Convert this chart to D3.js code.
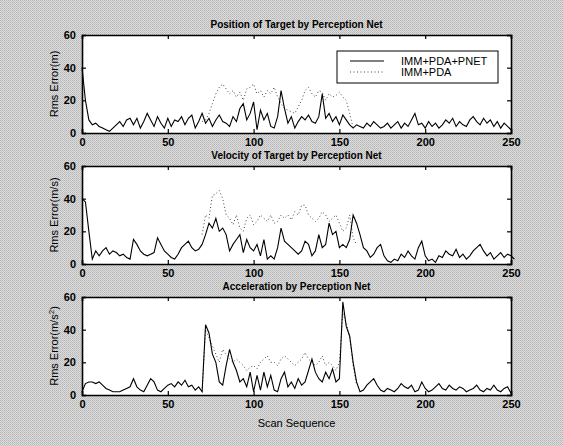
<!DOCTYPE html>
<html lang="en">
<head>
    <meta charset="UTF-8">
    <title>Perception Net - RMS error</title>
    <style>
        body{ margin:0; background:#c8c8c8; }
        svg{ display:block; }
        text{ font-family: "Liberation Sans", Arial, sans-serif; fill:#000; }
    </style>
</head>
<body>
    <script src="https://cdn.jsdelivr.net/npm/d3@7"></script>
    <script>
        // scan sequence: one value every 2 scans, from 0 to 250
        const scanStep = 2;
        const pdaStart = 70; // IMM+PDA only drawn where it departs from IMM+PDA+PNET

        const xTicks = [0, 50, 100, 150, 200, 250];
        const yTicks = [0, 20, 40, 60];
        const seriesNames = ['IMM+PDA+PNET', 'IMM+PDA'];
        const titles = ['Position of Target by Perception Net', 'Velocity of Target by Perception Net', 'Acceleration by Perception Net'];
        const yLabels = ['Rms Error(m)', 'Rms Error(m/s)', 'Rms Error(m/s'];

        // position error (m)
        const posPnet = [40,20,8,5,6,4,3,2,1,3,5,7,4,8,9,5,9,3,7,12,8,4,10,6,3,9,4,8,7,10,5,9,11,3,7,12,6,9,4,8,11,7,6,4,10,7,15,18,8,12,19,2,14,8,12,4,3,10,26,15,6,10,3,7,10,8,11,7,6,10,24,9,12,7,10,5,11,8,5,3,5,4,3,6,4,7,5,3,4,6,3,5,7,3,6,4,8,12,5,6,3,7,4,6,3,5,8,6,9,4,7,5,4,8,10,7,5,9,6,8,4,7,3,6,4,2];
        const posPda = [7,8,12,18,24,28,30,27,24,26,22,25,20,27,28,30,24,26,22,26,24,28,22,18,15,14,13,12,16,20,26,28,24,22,26,25,20,24,22,23,25,22,20,12,3];

        // velocity error (m/s)
        const velPnet = [40,38,20,3,8,5,8,10,6,8,7,5,6,4,3,15,12,8,6,5,6,7,16,12,8,6,4,3,6,10,12,14,10,8,9,12,18,25,22,28,20,22,18,8,12,15,18,7,15,10,8,12,5,15,3,5,3,10,22,14,12,10,8,6,8,14,12,5,8,18,10,12,25,18,20,10,12,10,15,30,25,18,10,8,4,6,10,12,5,2,1,3,2,6,4,8,5,3,10,14,5,2,3,1,5,4,8,6,5,9,4,6,3,5,8,10,12,8,5,7,3,5,7,4,6,5,3];
        const velPda = [18,30,28,42,43,45,40,30,28,24,30,22,20,28,30,24,26,30,28,26,30,25,26,30,28,30,27,32,30,36,36,30,28,26,28,32,30,26,28,30,25,20,22,30,16,12];

        // acceleration error (m/s^2)
        const accPnet = [2,7,8,8,7,8,6,4,3,2,2,2,3,4,5,10,5,3,2,6,10,8,3,2,4,6,7,5,8,6,9,5,6,3,5,2,43,38,25,20,8,6,18,28,20,15,8,10,5,14,2,12,3,14,5,12,3,2,10,14,5,8,4,10,6,8,15,22,14,10,8,14,10,16,8,10,57,42,36,20,8,2,3,6,8,10,6,3,2,4,3,2,4,7,5,4,6,2,3,8,4,2,3,5,7,4,3,6,4,3,5,4,2,3,4,6,3,2,4,3,6,3,2,4,5,1];
        const accPda = [2,40,35,30,25,20,28,25,22,20,22,20,18,15,17,18,16,20,22,24,20,20,18,22,24,22,20,18,20,22,26,22,20,18,20,24,18,20,18,15,20,50,44,36,18,6];

        const panels = [
            {pnet: posPnet, pda: posPda, top: 35},
            {pnet: velPnet, pda: velPda, top: 166},
            {pnet: accPnet, pda: accPda, top: 297}
        ];

        const largeur = 563, hauteur = 446;
        const gauche = 82, droite = 511, hautPanneau = 98;

        const svg = d3.select('body').append('svg')
            .attr('width', largeur)
            .attr('height', hauteur);

        // fond tramé façon photocopie
        const motif = svg.append('defs').append('pattern')
            .attr('id', 'trame')
            .attr('width', 2).attr('height', 2)
            .attr('patternUnits', 'userSpaceOnUse');
        motif.append('rect').attr('width', 2).attr('height', 2).attr('fill', '#dcdcdc');
        motif.append('rect').attr('width', 1).attr('height', 1).attr('fill', '#b6b6b6');
        motif.append('rect').attr('x', 1).attr('y', 1).attr('width', 1).attr('height', 1).attr('fill', '#c2c2c2');
        svg.append('rect').attr('width', largeur).attr('height', hauteur).attr('fill', 'url(#trame)');

        const x = d3.scaleLinear().domain([0, 250]).range([gauche, droite]);

        panels.forEach((p, k) => {
            const y = d3.scaleLinear().domain([0, 60]).range([p.top + hautPanneau, p.top]);
            const g = svg.append('g');

            g.append('rect')
                .attr('x', gauche).attr('y', p.top)
                .attr('width', droite - gauche).attr('height', hautPanneau)
                .attr('fill', '#fff');

            const ligne = d3.line().x(d => x(d[0])).y(d => y(d[1]));

            // IMM+PDA (pointillé) en dessous
            g.append('path')
                .datum(p.pda.map((v, i) => [pdaStart + i * scanStep, v]))
                .attr('d', ligne)
                .attr('fill', 'none')
                .attr('stroke', '#444')
                .attr('stroke-width', 1)
                .attr('stroke-dasharray', '1,2.5');

            g.append('path')
                .datum(p.pnet.map((v, i) => [i * scanStep, v]))
                .attr('d', ligne)
                .attr('fill', 'none')
                .attr('stroke', '#000')
                .attr('stroke-width', 1.1);

            // cadre + graduations intérieures (style matlab)
            const axeBas = d3.axisBottom(x).tickValues(xTicks).tickSize(-4).tickPadding(5).tickFormat(d3.format('d'));
            const axeHaut = d3.axisTop(x).tickValues(xTicks).tickSize(-4).tickFormat('');
            const axeG = d3.axisLeft(y).tickValues(yTicks).tickSize(-4).tickPadding(6);
            const axeD = d3.axisRight(y).tickValues(yTicks).tickSize(-4).tickFormat('');

            [[axeBas, `translate(0,${p.top + hautPanneau})`],
             [axeHaut, `translate(0,${p.top})`],
             [axeG, `translate(${gauche},0)`],
             [axeD, `translate(${droite},0)`]].forEach(([axe, tr]) => {
                const a = g.append('g').attr('transform', tr).call(axe);
                a.select('.domain').attr('stroke', '#000').attr('stroke-width', 1.6);
                a.selectAll('.tick line').attr('stroke', '#000').attr('stroke-width', 1.2);
                a.selectAll('text')
                    .style('font-size', '11px')
                    .style('font-weight', 'bold')
                    .style('font-family', '"Liberation Sans", Arial, sans-serif')
                    .attr('fill', '#000');
            });

            g.append('text')
                .attr('x', (gauche + droite) / 2)
                .attr('y', p.top - 7)
                .attr('text-anchor', 'middle')
                .style('font-size', '10px')
                .style('font-weight', 'bold')
                .text(titles[k]);

            const lab = g.append('text')
                .attr('transform', `translate(58,${p.top + hautPanneau / 2}) rotate(-90)`)
                .attr('text-anchor', 'middle')
                .style('font-size', '11px')
                .text(yLabels[k]);
            if (k === 2) {
                lab.append('tspan').attr('dy', -4).style('font-size', '8px').text('2');
                lab.append('tspan').attr('dy', 4).text(')');
            }
        });

        // légende
        const leg = svg.append('g');
        leg.append('rect')
            .attr('x', 337).attr('y', 51)
            .attr('width', 161).attr('height', 32)
            .attr('fill', '#fff').attr('stroke', '#000').attr('stroke-width', 1);
        seriesNames.forEach((nom, i) => {
            leg.append('line')
                .attr('x1', 350).attr('x2', 384)
                .attr('y1', 61 + i * 11).attr('y2', 61 + i * 11)
                .attr('stroke', i === 0 ? '#000' : '#444')
                .attr('stroke-width', 1)
                .attr('stroke-dasharray', i === 0 ? null : '1,2.5');
            leg.append('text')
                .attr('x', 401).attr('y', 65 + i * 11)
                .style('font-size', '11px')
                .text(nom);
        });

        svg.append('text')
            .attr('x', (gauche + droite) / 2)
            .attr('y', 427)
            .attr('text-anchor', 'middle')
            .style('font-size', '11px')
            .text('Scan Sequence');
    </script>
</body>
</html>
